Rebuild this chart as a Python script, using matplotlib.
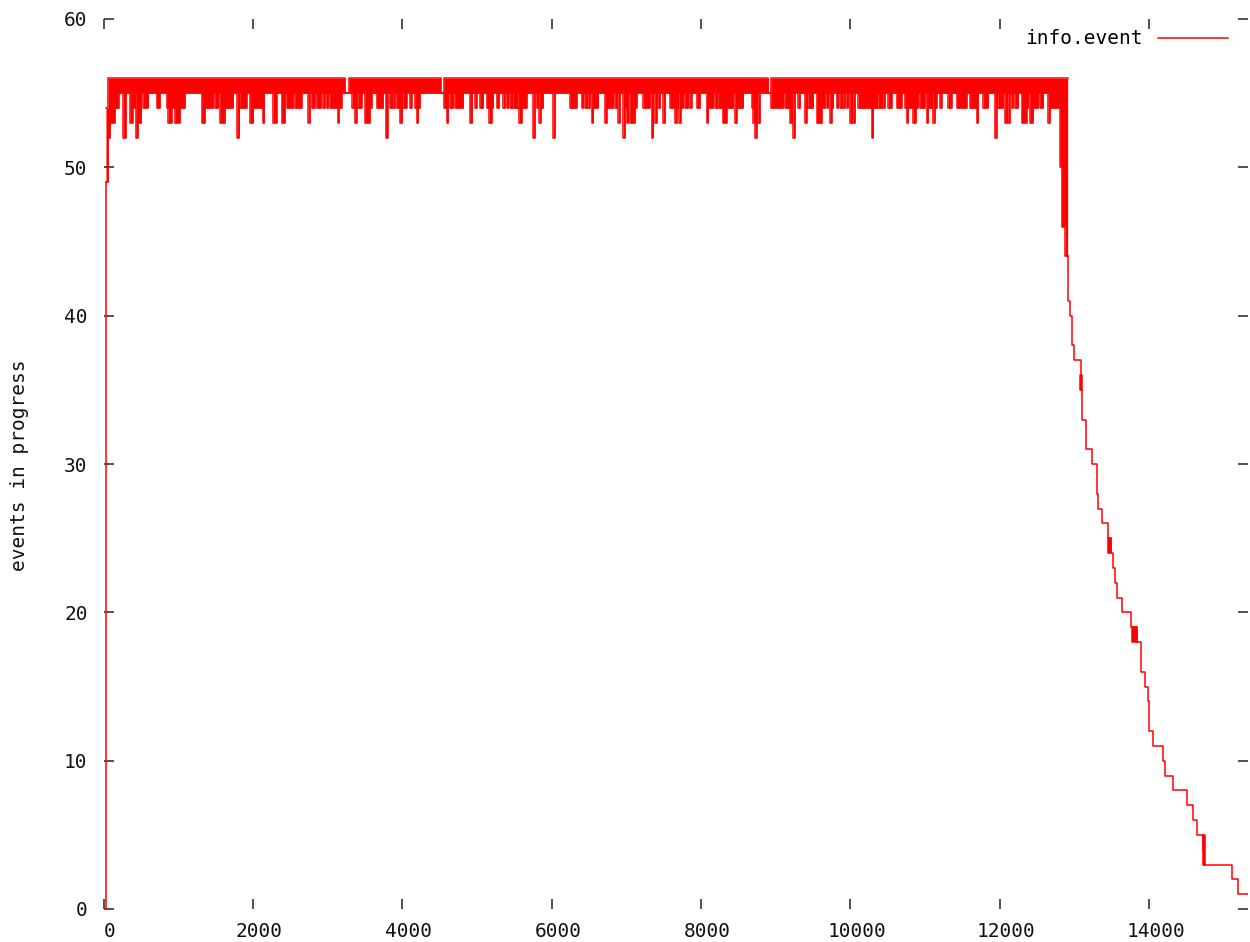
import matplotlib
matplotlib.use('Agg')
import matplotlib.pyplot as plt
from matplotlib.lines import Line2D
import matplotlib.transforms as mtransforms

# ---------------- data ----------------
# idle start, then the jump into the busy plateau
start_x = [0, 33]
start_y = [0, 49]

plateau_start = 33
plateau_end = 12910
plateau_top = 56      # usual maximum of events in progress
plateau_base = 55     # value the count keeps flicking down to

# dips below the base level while busy: (from, to, lowest value)
dips = [
    (33, 64, 49), (64, 87, 52), (87, 154, 53), (154, 203, 54),
    (266, 301, 52), (355, 391, 53), (391, 426, 54), (435, 462, 52), (462, 507, 53),
    (533, 600, 54), (712, 757, 54), (846, 868, 54), (868, 913, 53), (913, 957, 54),
    (957, 1024, 53), (1024, 1091, 54), (1315, 1359, 53), (1359, 1471, 54),
    (1493, 1538, 54), (1560, 1627, 53), (1627, 1739, 54), (1792, 1819, 52),
    (1828, 1917, 54), (1962, 2006, 53), (2006, 2140, 54), (2131, 2154, 53),
    (2274, 2319, 53), (2386, 2431, 53), (2453, 2542, 54), (2564, 2653, 54),
    (2743, 2765, 53), (2787, 2832, 54), (2854, 2912, 54), (2943, 2966, 54),
    (2988, 3010, 54), (3033, 3189, 54), (3135, 3153, 53), (3332, 3368, 54),
    (3368, 3390, 53), (3412, 3457, 54), (3501, 3568, 53), (3568, 3591, 54),
    (3658, 3747, 54), (3778, 3805, 52), (3836, 3859, 54), (3881, 3903, 54),
    (3926, 3970, 54), (3970, 4001, 53), (4015, 4059, 54), (4104, 4126, 54),
    (4171, 4238, 54), (4193, 4216, 53), (4559, 4595, 54), (4595, 4617, 53),
    (4640, 4684, 54), (4707, 4818, 54), (4908, 4939, 53), (4975, 4997, 54),
    (5042, 5086, 54), (5131, 5162, 54), (5167, 5198, 53), (5198, 5221, 54),
    (5265, 5297, 54), (5355, 5377, 54), (5399, 5422, 54), (5444, 5466, 54),
    (5489, 5533, 54), (5555, 5667, 54), (5569, 5600, 53), (5756, 5779, 52),
    (5801, 5823, 54), (5837, 5855, 53), (5868, 5890, 54), (6024, 6047, 52),
    (6247, 6337, 54), (6404, 6426, 54), (6448, 6471, 54), (6493, 6515, 54),
    (6538, 6560, 53), (6560, 6627, 54), (6716, 6738, 53), (6738, 6828, 54),
    (6850, 6872, 54), (6895, 6917, 53), (6962, 6984, 52), (6984, 7006, 54),
    (7006, 7029, 53), (7051, 7073, 53), (7087, 7118, 53), (7118, 7140, 54),
    (7229, 7319, 54), (7341, 7363, 52), (7386, 7408, 53), (7430, 7453, 54),
    (7497, 7520, 53), (7587, 7698, 54), (7654, 7676, 53), (7712, 7729, 53),
    (7743, 7765, 54), (7787, 7832, 54), (7854, 7876, 54), (7943, 7988, 54),
    (8077, 8100, 53), (8100, 8166, 54), (8189, 8211, 54), (8233, 8291, 54),
    (8291, 8345, 53), (8345, 8434, 54), (8457, 8479, 53), (8479, 8568, 54),
    (8680, 8702, 54), (8702, 8724, 53), (8724, 8747, 52), (8769, 8791, 53),
    (8939, 9104, 54), (9126, 9193, 54), (9193, 9216, 53), (9238, 9260, 52),
    (9305, 9327, 54), (9394, 9416, 53), (9439, 9506, 54), (9550, 9617, 53),
    (9617, 9662, 54), (9684, 9707, 54), (9729, 9751, 53), (9751, 9774, 54),
    (9818, 9840, 54), (9863, 9885, 54), (9907, 9930, 54), (9952, 9974, 54),
    (9997, 10019, 53), (10041, 10064, 53), (10108, 10287, 54), (10287, 10309, 52),
    (10309, 10354, 54), (10376, 10419, 54), (10442, 10464, 54), (10509, 10553, 54),
    (10620, 10687, 54), (10732, 10754, 54), (10754, 10776, 53), (10776, 10843, 54),
    (10843, 10879, 53), (10888, 10910, 54), (10933, 11000, 54), (11022, 11044, 53),
    (11044, 11089, 54), (11111, 11134, 53), (11134, 11156, 54), (11201, 11223, 54),
    (11312, 11357, 54), (11424, 11558, 54), (11602, 11692, 54), (11692, 11714, 53),
    (11781, 11848, 54), (11937, 11959, 52), (11982, 12049, 54), (12071, 12093, 53),
    (12116, 12138, 53), (12160, 12183, 54), (12205, 12250, 54), (12294, 12361, 53),
    (12361, 12384, 54), (12406, 12450, 53), (12450, 12517, 54), (12540, 12584, 54),
    (12651, 12674, 53), (12674, 12808, 54), (12808, 12830, 50), (12830, 12879, 46),
    (12879, 12910, 44),
]

# stretches where the count never reached 56: (from, to, highest value)
top_drops = [(33, 64, 54), (3234, 3287, 55), (4515, 4559, 55), (8903, 8939, 55)]

# draining phase after the last events were started (step values)
decline_x = [12910, 12941, 12972, 12995, 13085, 13106, 13156, 13240, 13299, 13321,
             13374, 13455, 13491, 13514, 13545, 13575, 13642, 13759, 13835, 13889,
             13946, 13990, 14004, 14057, 14191, 14214, 14325, 14512, 14593, 14638,
             14726, 14740, 15107, 15195, 15325]
decline_y = [41, 40, 38, 37, 35, 33, 31, 30, 28, 27,
             26, 25, 24, 23, 22, 21, 20, 19, 18, 16,
             15, 14, 12, 11, 10, 9, 8, 7, 6, 5,
             4, 3, 2, 1, 1]

# short flickers during the decline: (from, to, low, high)
bursts = [(13078, 13106, 35, 36), (13455, 13491, 24, 25),
          (13768, 13835, 18, 19), (14726, 14749, 3, 5)]

x_ticks = [0, 2000, 4000, 6000, 8000, 10000, 12000, 14000]
y_ticks = [0, 10, 20, 30, 40, 50, 60]
x_max = 15325
y_max = 60
series_name = 'info.event'
y_title = 'events in progress'

# ---------------- build plateau envelopes ----------------
edges = sorted(set([plateau_start, plateau_end]
                   + [d[0] for d in dips] + [d[1] for d in dips]
                   + [t[0] for t in top_drops] + [t[1] for t in top_drops]))
edges = [e for e in edges if plateau_start <= e <= plateau_end]
lo, hi = [], []
for a, b in zip(edges[:-1], edges[1:]):
    mid = (a + b) / 2
    lo.append(min([d[2] for d in dips if d[0] <= mid < d[1]] + [plateau_base]))
    hi.append(min([t[2] for t in top_drops if t[0] <= mid < t[1]] + [plateau_top]))
lo.append(lo[-1])
hi.append(hi[-1])

# ---------------- figure ----------------
plt.rcParams['font.family'] = ['DejaVu Sans Mono']
W, H = 1250, 942
fig = plt.figure(figsize=(W / 100, H / 100), dpi=100)
ax = fig.add_axes([103.5 / W, 1 - 909 / H, (1248 - 103.5) / W, (909 - 19) / H])

red = '#ff0000'
lw = 1.1
ax.step(start_x, start_y, where='post', color=red, lw=lw)
ax.fill_between(edges, lo, hi, step='post', color=red, lw=0)
ax.step(edges, lo, where='post', color=red, lw=lw)
ax.step(edges, hi, where='post', color=red, lw=lw)
ax.step([edges[-1]] + decline_x, [lo[-1]] + decline_y, where='post', color=red, lw=lw)
for x0, x1, l, h in bursts:
    ax.fill_between([x0, x1], [l, l], [h, h], color=red, lw=lw, edgecolor=red)

ax.set_xlim(0, x_max)
ax.set_ylim(0, y_max)
for s in ax.spines.values():
    s.set_visible(False)
ax.set_xticks(x_ticks)
ax.set_yticks(y_ticks)
ax.tick_params(axis='both', direction='in', length=7.5, width=1.1, color='#222222',
               top=True, right=True, labelsize=14, labelcolor='#111111')
ax.tick_params(axis='x', pad=9.5)
ax.tick_params(axis='y', pad=11.5)
offset = mtransforms.ScaledTranslation(6.5 / 100, 0, fig.dpi_scale_trans)
for lab in ax.get_xticklabels():
    lab.set_transform(lab.get_transform() + offset)

fig.text(20 / W, 1 - 465 / H, y_title, rotation=90, ha='center', va='center',
         fontsize=14, color='#111111')

handle = Line2D([], [], color=red, lw=lw)
leg = ax.legend([handle], [series_name], loc='center right',
                bbox_to_anchor=(1228 / W, 1 - 39 / H), bbox_transform=fig.transFigure,
                frameon=False, markerfirst=False, handlelength=3.6, handletextpad=0.8,
                borderpad=0, borderaxespad=0, fontsize=14)

fig.savefig('out.png', dpi=100)
